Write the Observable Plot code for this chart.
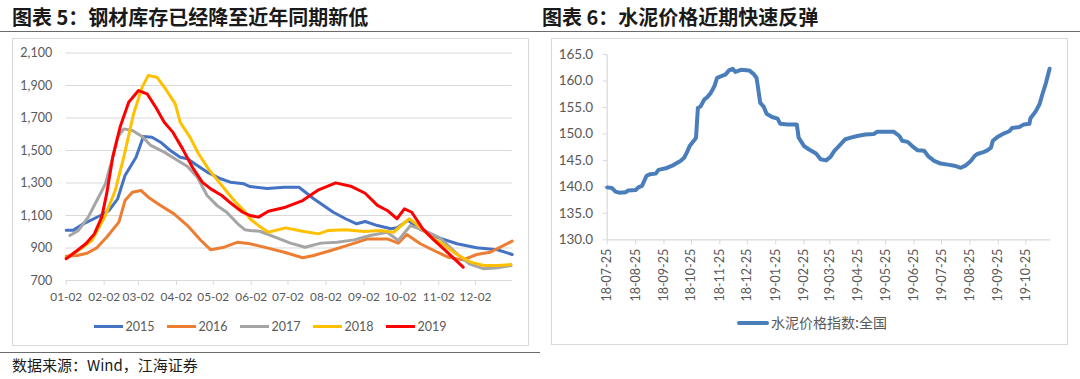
<!DOCTYPE html>
<html><head><meta charset="utf-8">
<script src="https://cdn.jsdelivr.net/npm/d3@7"></script>
<script src="https://cdn.jsdelivr.net/npm/@observablehq/plot@0.6"></script>
<style>
html,body{margin:0;padding:0;background:#fff;}
#root{position:relative;width:1080px;height:379px;overflow:hidden;font-family:"Noto Sans CJK SC",sans-serif;}
.abs{position:absolute;}
.title{font-weight:700;font-size:20px;line-height:20px;color:#1a1a1a;white-space:nowrap;}
.box{border:1px solid #d9d9d9;box-sizing:border-box;}
.hr{background:#6b6b6b;height:1px;}
.leg{display:flex;justify-content:center;align-items:center;font-family:Lato,sans-serif;font-size:12.5px;color:#595959;}
.leg .it{display:flex;align-items:center;margin:0 6px;}
.leg .sw{width:29px;height:3px;margin-right:3px;}
</style>
</head><body><div id="root"></div>
<script>
// ---------- Chart 5 data: steel inventory (day of year, value) ----------
const years = ["2015","2016","2017","2018","2019"];
const colors5 = ["#4472C4","#ED7D31","#A5A5A5","#FFC000","#FF0000"];
const d2015 = [1,7,15,29,36,43,49,58,64,71,78,86,94,100,108,116,127,135,146,151,165,179,191,203,219,229,238,245,255,266,271,280,290,304,320,336,353,365];
const v2015 = [1010,1010,1049,1100,1131,1203,1346,1459,1586,1582,1551,1500,1459,1449,1408,1367,1326,1305,1295,1278,1266,1274,1274,1203,1120,1080,1049,1063,1038,1018,1024,1070,1015,965,926,901,889,860];
const d2016 = [1,10,18,26,34,44,49,55,62,68,78,89,100,111,119,130,141,151,165,179,194,203,217,230,247,263,272,279,290,304,313,325,336,347,365];
const v2016 = [850,854,868,901,966,1059,1192,1243,1254,1213,1162,1110,1038,946,889,905,936,926,901,874,840,854,885,915,956,956,930,983,926,874,843,827,860,874,942];
const d2017 = [4,11,19,26,33,39,43,48,55,63,70,81,92,100,108,116,124,132,141,147,151,159,173,184,196,209,222,236,249,263,272,282,293,306,320,330,342,353,364];
const v2017 = [977,1008,1090,1192,1295,1459,1582,1633,1623,1586,1531,1490,1438,1402,1336,1223,1162,1120,1049,1012,1008,1003,962,930,905,930,936,950,977,997,946,1038,1008,962,864,803,772,778,792];
const d2018 = [1,10,22,33,41,48,56,63,68,75,82,90,94,102,109,117,128,138,146,151,159,166,180,195,207,215,229,244,257,268,281,287,298,309,320,331,342,353,364];
const v2018 = [840,880,946,1100,1254,1459,1726,1890,1962,1951,1880,1787,1674,1582,1480,1387,1285,1192,1131,1080,1032,997,1024,1002,987,1008,1012,1002,1008,997,1080,1045,971,921,860,813,792,792,798];
const d2019 = [1,10,17,24,30,34,39,45,52,60,67,74,81,88,96,104,112,119,128,136,145,151,158,166,180,194,207,221,234,245,255,263,271,277,283,292,301,312,325];
const v2019 = [834,885,926,987,1090,1233,1459,1644,1797,1869,1849,1767,1674,1613,1510,1397,1305,1264,1223,1172,1120,1100,1090,1126,1151,1192,1258,1301,1278,1237,1162,1131,1080,1141,1120,1018,950,874,782];
const xTickDays5 = [1,32,60,91,121,152,182,213,244,274,305,335];
const xTickLabels5 = ["01-02","02-02","03-02","04-02","05-02","06-02","07-02","08-02","09-02","10-02","11-02","12-02"];
const yTicks5 = [700,900,1100,1300,1500,1700,1900,2100];

// ---------- Chart 6 data: cement price index ----------
const cementDates = ["2018-07-25","2018-07-30","2018-08-03","2018-08-07","2018-08-14","2018-08-17","2018-08-25","2018-08-28","2018-09-01","2018-09-06","2018-09-10","2018-09-16","2018-09-19","2018-09-27","2018-10-04","2018-10-10","2018-10-13","2018-10-17","2018-10-20","2018-10-23","2018-10-28","2018-10-30","2018-11-01","2018-11-04","2018-11-08","2018-11-11","2018-11-15","2018-11-19","2018-11-22","2018-11-28","2018-12-01","2018-12-05","2018-12-09","2018-12-12","2018-12-18","2018-12-27","2019-01-01","2019-01-04","2019-01-06","2019-01-08","2019-01-12","2019-01-15","2019-01-21","2019-01-27","2019-01-30","2019-02-07","2019-02-17","2019-02-19","2019-02-25","2019-03-02","2019-03-10","2019-03-15","2019-03-21","2019-03-26","2019-03-30","2019-04-04","2019-04-11","2019-04-17","2019-04-24","2019-05-03","2019-05-12","2019-05-16","2019-06-03","2019-06-09","2019-06-12","2019-06-18","2019-06-23","2019-06-29","2019-07-06","2019-07-11","2019-07-17","2019-07-24","2019-08-01","2019-08-08","2019-08-15","2019-08-20","2019-08-26","2019-08-30","2019-09-02","2019-09-08","2019-09-13","2019-09-17","2019-09-19","2019-09-24","2019-09-30","2019-10-07","2019-10-10","2019-10-18","2019-10-23","2019-10-29","2019-10-30","2019-11-05","2019-11-09","2019-11-12","2019-11-16","2019-11-20"];
const cementValues = [139.9,139.8,139.1,138.9,139.0,139.3,139.4,139.9,140.2,142.1,142.4,142.5,143.2,143.5,144.0,144.6,144.9,145.5,146.5,147.7,148.8,149.3,154.9,155.2,156.5,156.9,157.7,159.0,160.6,161.0,161.2,162.0,162.3,161.7,162.1,162.0,161.3,160.6,158.4,155.9,155.1,153.8,153.2,152.9,151.9,151.8,151.8,149.3,147.7,147.1,146.3,145.2,145.0,145.7,146.8,147.7,149.0,149.3,149.6,149.9,150.0,150.4,150.4,149.6,148.7,148.5,147.7,146.9,146.8,145.7,144.9,144.4,144.2,144.0,143.6,144.0,144.9,145.8,146.2,146.5,146.9,147.4,148.7,149.4,150.0,150.5,151.1,151.3,151.8,151.9,152.9,154.3,155.6,157.4,159.6,162.3];
const xTickLabels6 = ["18-07-25","18-08-25","18-09-25","18-10-25","18-11-25","18-12-25","19-01-25","19-02-25","19-03-25","19-04-25","19-05-25","19-06-25","19-07-25","19-08-25","19-09-25","19-10-25"];
const yTicks6 = [130,135,140,145,150,155,160,165];
const cementLegend = "水泥价格指数:全国";

const root = document.getElementById("root");
function el(cls, style, html) {
  const d = document.createElement("div");
  d.className = cls; Object.assign(d.style, style);
  if (html != null) d.innerHTML = html;
  root.appendChild(d); return d;
}

// titles and rules
el("abs title", {left:"12px", top:"7px"}, "图表 5：钢材库存已经降至近年同期新低");
el("abs title", {left:"542px", top:"7px"}, "图表 6：水泥价格近期快速反弹");
el("abs hr", {left:"0px", top:"31px", width:"1080px"});
el("abs hr", {left:"0px", top:"352px", width:"540px"});
el("abs", {left:"12px", top:"357px", fontSize:"15px", lineHeight:"15px", color:"#1a1a1a", whiteSpace:"nowrap"}, "数据来源：Wind，江海证券");
el("abs box", {left:"12px", top:"38px", width:"517px", height:"308px"});
el("abs box", {left:"551px", top:"38px", width:"517px", height:"307px"});

// ---------- chart 5 ----------
const series5 = [[d2015,v2015],[d2016,v2016],[d2017,v2017],[d2018,v2018],[d2019,v2019]];
const rows5 = [];
series5.forEach(([ds, vs], i) => ds.forEach((d, j) => rows5.push({year: years[i], day: d, value: vs[j]})));

const chart5 = Plot.plot({
  width: 516, height: 307,
  marginLeft: 53.7, marginRight: 16.3, marginTop: 14.5, marginBottom: 65,
  style: {fontFamily: "Lato, sans-serif", fontSize: "13px", color: "#595959", background: "transparent", overflow: "visible"},
  x: {domain: [1, 365], label: null},
  y: {domain: [700, 2100], label: null},
  color: {domain: years, range: colors5},
  marks: [
    Plot.ruleY(yTicks5, {stroke: "#d9d9d9", strokeWidth: 1.2}),
    Plot.axisX({ticks: xTickDays5, tickFormat: (d) => xTickLabels5[xTickDays5.indexOf(d)], tickSize: 5, tickPadding: 7, stroke: "#d9d9d9", fill: "#595959", fontSize: 11.8, label: null}),
    Plot.axisY({ticks: yTicks5, tickFormat: d3.format(","), tickSize: 0, tickPadding: 14, fill: "#595959", fontSize: 12.5, label: null}),
    Plot.line(rows5, {x: "day", y: "value", z: "year", stroke: "year", strokeWidth: 3, curve: "linear", strokeLinejoin: "round"})
  ]
});
const w5 = el("abs", {left:"12px", top:"38px"});
w5.appendChild(chart5);

const leg5 = el("abs leg", {left:"12px", top:"318px", width:"516px", height:"16px"});
years.forEach((y, i) => {
  const it = document.createElement("div"); it.className = "it";
  it.innerHTML = `<span class="sw" style="background:${colors5[i]}"></span><span>${y}</span>`;
  leg5.appendChild(it);
});

// ---------- chart 6 ----------
const rows6 = cementDates.map((d, i) => ({date: new Date(d), value: cementValues[i]}));
const ticks6 = xTickLabels6.map(s => new Date("20" + s));
const x0 = new Date("2018-07-25"), x1 = new Date("2019-11-21");
const chart6 = Plot.plot({
  width: 515, height: 306,
  marginLeft: 54.7, marginRight: 17, marginTop: 16, marginBottom: 104.7,
  style: {fontFamily: "Lato, sans-serif", fontSize: "13px", color: "#595959", background: "transparent", overflow: "visible"},
  x: {type: "utc", domain: [x0, x1], label: null},
  y: {domain: [130, 165], label: null},
  marks: [
    Plot.ruleY([130], {stroke: "#d9d9d9", strokeWidth: 1.2}),
    Plot.ruleX([x0], {stroke: "#d9d9d9", strokeWidth: 1.2}),
    Plot.axisX({ticks: ticks6, tickFormat: (d) => xTickLabels6[ticks6.findIndex(t => +t === +d)], tickRotate: -90, tickSize: 5, tickPadding: 4, stroke: "#d9d9d9", fill: "#595959", fontSize: 12.5, label: null}),
    Plot.axisY({ticks: yTicks6, tickFormat: d => d.toFixed(1), tickSize: 4, tickPadding: 10, stroke: "#d9d9d9", fill: "#595959", fontSize: 13.5, label: null}),
    Plot.line(rows6, {x: "date", y: "value", stroke: "#4A7EBB", strokeWidth: 4, strokeLinejoin: "round", strokeLinecap: "round"})
  ]
});
const w6 = el("abs", {left:"552px", top:"38px"});
w6.appendChild(chart6);

el("abs", {left:"737px", top:"321px", width:"32px", height:"4px", background:"#4A7EBB", borderRadius:"2px"});
el("abs", {left:"771px", top:"314px", fontSize:"14px", lineHeight:"16px", color:"#595959", whiteSpace:"nowrap"}, cementLegend);
</script>
</body></html>
